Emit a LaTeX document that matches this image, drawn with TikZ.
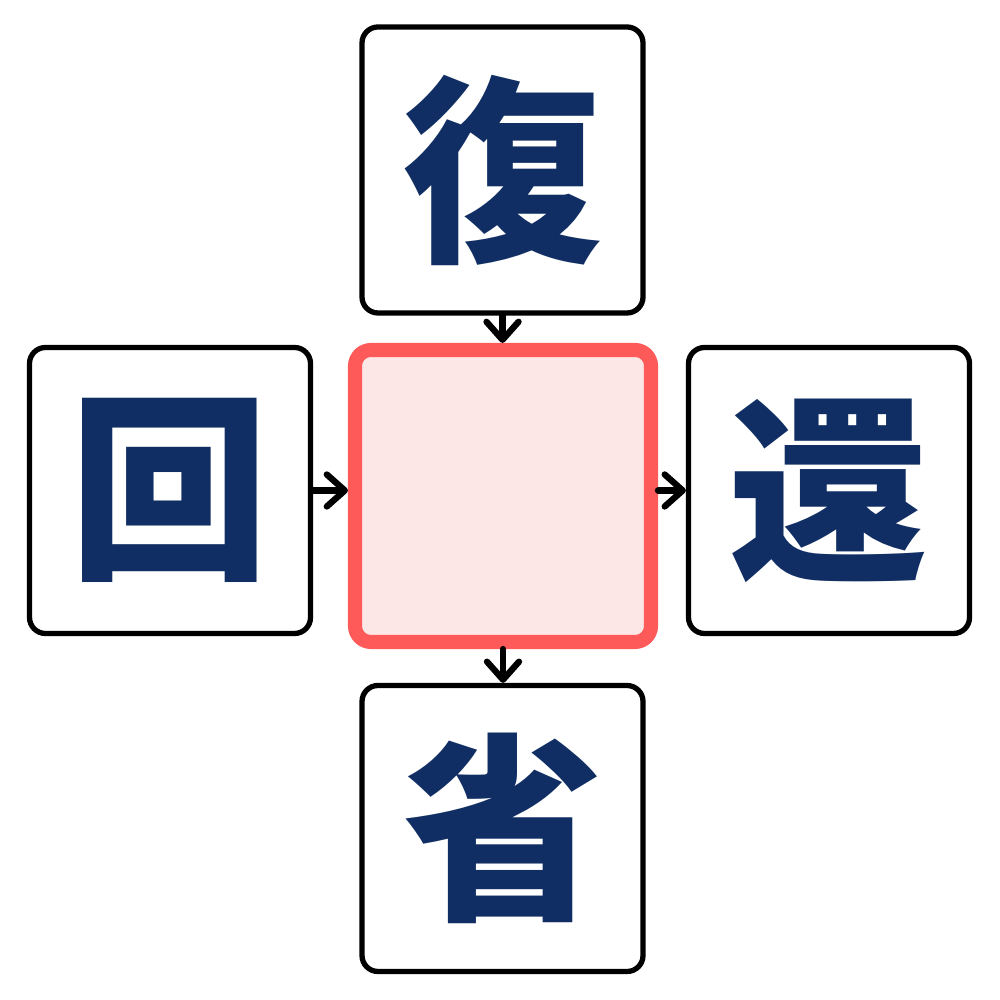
\documentclass[tikz,border=0pt]{standalone}
\usepackage{fontspec}
\usepackage{xcolor}
\usepackage{tikz}
\usetikzlibrary{arrows.meta,positioning}
\newfontfamily\cjk{Noto Sans CJK JP}
\definecolor{ink}{HTML}{000000}
\definecolor{navy}{HTML}{102E63}
\definecolor{hot}{HTML}{FF5A5A}
\definecolor{hotbg}{HTML}{FDE6E6}
\tikzset{
  charbox/.style={draw=ink, fill=white, line width=1.5pt, rounded corners=1.6mm,
    minimum width=2.81cm, minimum height=2.86cm, inner sep=0pt, text=navy,
    font=\cjk\bfseries\fontsize{57pt}{57pt}\selectfont},
  hole/.style={draw=hot, fill=hotbg, line width=4pt, rounded corners=1.6mm,
    minimum width=2.96cm, minimum height=2.92cm, inner sep=0pt},
  link/.style={draw=ink, line width=1.8pt, line cap=round,
    -{Straight Barb[round, length=1.8mm, width=3.2mm]}},
}
\begin{document}
\begin{tikzpicture}
\useasboundingbox (0,0) rectangle (10,10);
\node[hole] (mid) at (5.03,5.04) {};
\node[charbox] (up) at (5.025,8.30) {復};
\node[charbox] (lft) at (1.70,5.095) {回};
\node[charbox] (rgt) at (8.29,5.095) {還};
\node[charbox] (dn) at (5.025,1.715) {省};
\draw[link] (up.south) -- (up.south |- mid.north);
\draw[link] (lft.east) -- (lft.east -| mid.west);
\draw[link] (rgt.west -| mid.east) -- (rgt.west);
\draw[link] (mid.south) -- (mid.south |- dn.north);
\end{tikzpicture}
\end{document}
